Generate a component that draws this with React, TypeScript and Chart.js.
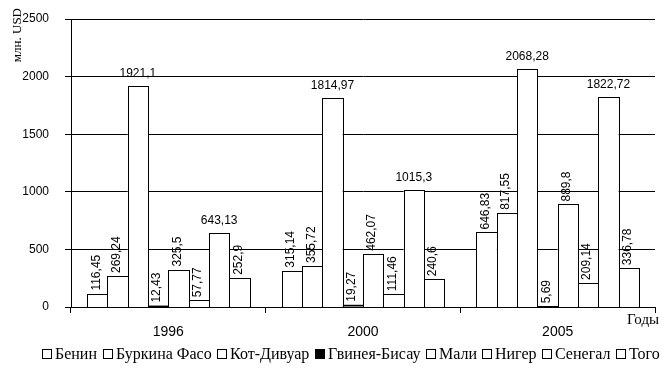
import React, { useEffect, useRef } from "react";
import { Chart, registerables } from "chart.js";

Chart.register(...registerables);

const years = ["1996", "2000", "2005"];
const benin = [116.45, 315.14, 646.83];
const burkina = [269.24, 355.72, 817.55];
const coteDivoire = [1921.1, 1814.97, 2068.28];
const guineaBissau = [12.43, 19.27, 5.69];
const mali = [325.5, 462.07, 889.8];
const niger = [57.77, 111.46, 209.14];
const senegal = [643.13, 1015.3, 1822.72];
const togo = [252.9, 240.6, 336.78];

const seriesNames = ["Бенин", "Буркина Фасо", "Кот-Дивуар", "Гвинея-Бисау", "Мали", "Нигер", "Сенегал", "Того"];
const seriesValues = [benin, burkina, coteDivoire, guineaBissau, mali, niger, senegal, togo];
const seriesFill = ["#fff", "#fff", "#fff", "#000", "#fff", "#fff", "#fff", "#fff"];
const horizontalLabelSeries = [2, 6];

const yTitle = "млн. USD";
const xTitle = "Годы";

const SERIF = "'Liberation Serif', 'Times New Roman', serif";
const SANS = "'Liberation Sans', Arial, sans-serif";

const overlayPlugin = {
  id: "overlay",
  afterDatasetsDraw(chart: any) {
    const ctx = chart.ctx;
    ctx.save();
    // bar outlines
    ctx.strokeStyle = "#000";
    ctx.lineWidth = 1;
    chart.data.datasets.forEach((ds: any, di: number) => {
      const meta = chart.getDatasetMeta(di);
      meta.data.forEach((el: any) => {
        const l = Math.round(el.x - el.width / 2);
        const r = Math.round(el.x + el.width / 2);
        const t = Math.round(el.y);
        const b = Math.round(el.base);
        ctx.strokeRect(l + 0.5, t + 0.5, r - l, b - t);
      });
    });
    // value labels
    ctx.fillStyle = "#000";
    ctx.font = "12px " + SANS;
    chart.data.datasets.forEach((ds: any, di: number) => {
      const meta = chart.getDatasetMeta(di);
      meta.data.forEach((el: any, i: number) => {
        const txt = String(ds.data[i]).replace(".", ",");
        if (horizontalLabelSeries.includes(di)) {
          ctx.textAlign = "center";
          ctx.textBaseline = "bottom";
          ctx.fillText(txt, el.x, el.y - 6);
        } else {
          ctx.save();
          ctx.translate(el.x - 1, el.y - 3);
          ctx.rotate(-Math.PI / 2);
          ctx.textAlign = "left";
          ctx.textBaseline = "middle";
          ctx.fillText(txt, 0, 0);
          ctx.restore();
        }
      });
    });
    // axis titles
    ctx.font = "13px " + SERIF;
    ctx.save();
    ctx.translate(18, 8);
    ctx.rotate(-Math.PI / 2);
    ctx.textAlign = "right";
    ctx.textBaseline = "middle";
    ctx.fillText(yTitle, 0, 0);
    ctx.restore();
    ctx.font = "15px " + SERIF;
    ctx.textAlign = "left";
    ctx.textBaseline = "middle";
    ctx.fillText(xTitle, 627, chart.chartArea.bottom + 13);
    // legend
    ctx.font = "16px " + SERIF;
    const box = 10, gapIn = 3, gapOut = 5.5;
    const widths = seriesNames.map((n) => ctx.measureText(n).width);
    const total = widths.reduce((a, w) => a + box + gapIn + w, 0) + gapOut * (seriesNames.length - 1);
    let x = 351 - total / 2;
    const boxTop = 349;
    seriesNames.forEach((n, i) => {
      const bx = Math.round(x);
      ctx.fillStyle = seriesFill[i];
      ctx.fillRect(bx, boxTop, box, box);
      ctx.strokeStyle = "#000";
      ctx.strokeRect(bx + 0.5, boxTop + 0.5, box - 1, box - 1);
      ctx.fillStyle = "#000";
      ctx.textBaseline = "alphabetic";
      ctx.fillText(n, bx + box + gapIn, boxTop + box);
      x += box + gapIn + widths[i] + gapOut;
    });
    ctx.restore();
  },
};

export default function App() {
  const ref = useRef<HTMLCanvasElement>(null);
  useEffect(() => {
    const chart = new Chart(ref.current!, {
      type: "bar",
      data: {
        labels: years,
        datasets: seriesNames.map((name, i) => ({
          label: name,
          data: seriesValues[i],
          backgroundColor: seriesFill[i],
          hoverBackgroundColor: seriesFill[i],
          borderWidth: 0,
          inflateAmount: 0,
          categoryPercentage: 0.835,
          barPercentage: 1,
        })),
      },
      options: {
        responsive: false,
        animation: false,
        events: [],
        layout: { padding: { left: 0, right: 15, top: 19, bottom: 31 } },
        plugins: {
          legend: { display: false },
          tooltip: { enabled: false },
        },
        scales: {
          x: {
            offset: true,
            afterFit: (s: any) => { s.height = 38; },
            grid: { offset: true, drawOnChartArea: false, drawTicks: true, tickLength: 6, color: "#000" },
            border: { color: "#000" },
            ticks: {
              color: "#000",
              padding: 11,
              font: { family: SANS, size: 14 },
            },
          },
          y: {
            min: 0,
            max: 2500,
            afterFit: (s: any) => { s.width = 71; s.paddingTop = 0; s.paddingBottom = 0; },
            ticks: {
              stepSize: 500,
              color: "#000",
              padding: 16,
              font: { family: SANS, size: 12 },
              callback: (v: any) => String(v),
            },
            grid: { color: "#000", tickLength: 6 },
            border: { color: "#000" },
          },
        },
      },
      plugins: [overlayPlugin],
    });
    return () => chart.destroy();
  }, []);
  return (
    <div style={{ position: "fixed", left: 0, top: 0, width: 670, height: 376, background: "#fff" }}>
      <canvas ref={ref} width={670} height={376} />
    </div>
  );
}
